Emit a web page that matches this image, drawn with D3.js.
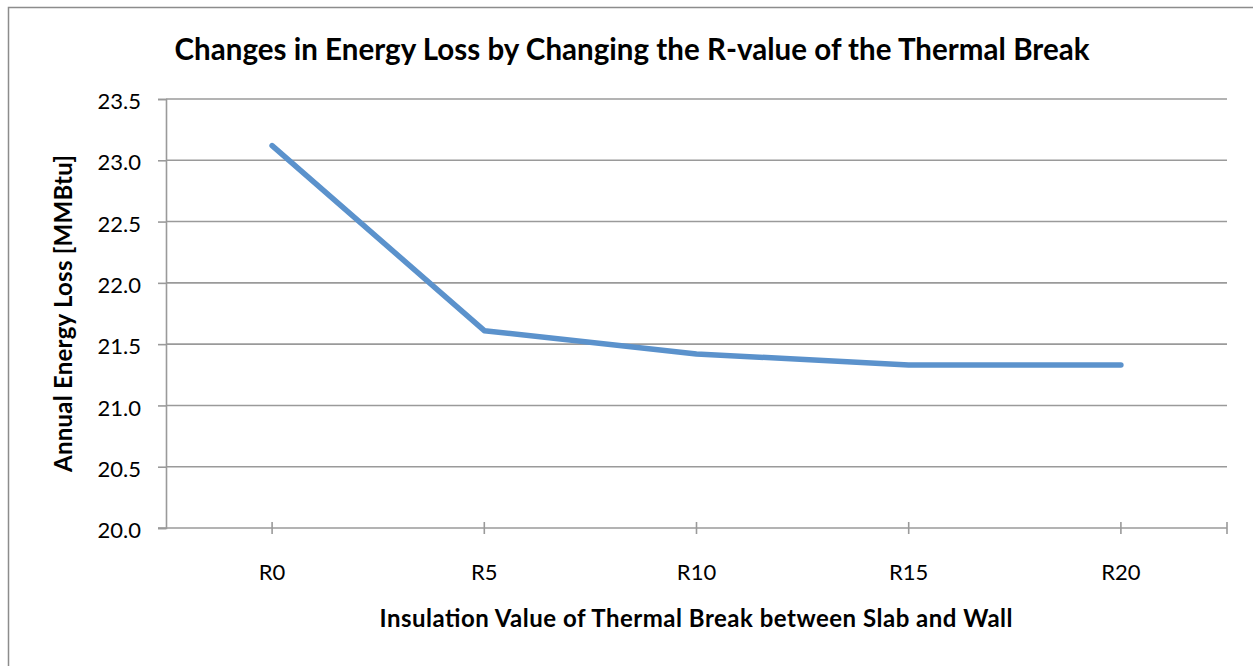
<!DOCTYPE html>
<html>
<head>
<meta charset="utf-8">
<script src="https://cdn.jsdelivr.net/npm/d3@7"></script>
<style>
  body { margin: 0; background: #fff; }
  text { font-family: Lato, "Open Sans", sans-serif; fill: #000; }
</style>
</head>
<body>
<svg id="chart" width="1253" height="666"></svg>
<script>
// data
const categories = ['R0', 'R5', 'R10', 'R15', 'R20'];
const energyLoss = [23.12, 21.61, 21.42, 21.33, 21.33];
const yTicks = [20.0, 20.5, 21.0, 21.5, 22.0, 22.5, 23.0, 23.5];

const titleText = 'Changes in Energy Loss by Changing the R-value of the Thermal Break';
const xTitleText = 'Insulation Value of Thermal Break between Slab and Wall';
const yTitleText = 'Annual Energy Loss [MMBtu]';

const svg = d3.select('#chart');
const plot = { left: 166, right: 1227, top: 99, bottom: 528 };
const gridColor = '#9a9a9a';

// outer chart frame (runs past the right and bottom edge of the shot)
svg.append('rect')
    .attr('x', 8.5).attr('y', 7.5)
    .attr('width', 1300).attr('height', 700)
    .attr('fill', 'none')
    .attr('stroke', '#8c8c8c')
    .attr('stroke-width', 1.5);

const x = d3.scaleBand()
    .domain(categories)
    .range([plot.left, plot.right])
    .padding(0);

const y = d3.scaleLinear()
    .domain([20, 23.5])
    .range([plot.bottom, plot.top]);

const cx = d => x(d) + x.bandwidth() / 2;

// horizontal gridlines
svg.append('g')
    .selectAll('line')
    .data(yTicks.slice(1))
    .join('line')
    .attr('x1', plot.left).attr('x2', plot.right)
    .attr('y1', d => y(d)).attr('y2', d => y(d))
    .attr('stroke', gridColor)
    .attr('stroke-width', 1.6);

// y axis
const yAxis = svg.append('g')
    .attr('transform', `translate(${plot.left},0)`)
    .call(d3.axisLeft(y).tickValues(yTicks).tickFormat(d3.format('.1f')).tickSize(8).tickPadding(17));
yAxis.select('.domain').attr('stroke', gridColor).attr('stroke-width', 1.6);
yAxis.selectAll('.tick line').attr('stroke', gridColor).attr('stroke-width', 1.6);
yAxis.selectAll('.tick text')
    .attr('font-family', 'Lato, sans-serif')
    .attr('font-size', 22)
    .attr('dy', '0.44em')
    .attr('fill', '#000');

// x axis: baseline plus cross tick marks at each category and the right end
const xAxis = svg.append('g');
xAxis.append('line')
    .attr('x1', plot.left - 8).attr('x2', plot.right)
    .attr('y1', plot.bottom).attr('y2', plot.bottom)
    .attr('stroke', gridColor).attr('stroke-width', 1.6);
const tickXs = categories.map(cx).concat([plot.right]);
xAxis.selectAll('line.xtick')
    .data(tickXs)
    .join('line')
    .attr('class', 'xtick')
    .attr('x1', d => d).attr('x2', d => d)
    .attr('y1', plot.bottom - 6).attr('y2', plot.bottom + 6)
    .attr('stroke', gridColor).attr('stroke-width', 1.6);
xAxis.selectAll('text')
    .data(categories)
    .join('text')
    .attr('x', d => cx(d))
    .attr('y', 580)
    .attr('text-anchor', 'middle')
    .attr('font-size', 22)
    .text(d => d);

// series line
const line = d3.line()
    .x((d, i) => cx(categories[i]))
    .y(d => y(d));

svg.append('path')
    .datum(energyLoss)
    .attr('d', line)
    .attr('fill', 'none')
    .attr('stroke', '#5b92cc')
    .attr('stroke-width', 5.5)
    .attr('stroke-linejoin', 'round')
    .attr('stroke-linecap', 'round');

// titles
svg.append('text')
    .attr('x', 632).attr('y', 60)
    .attr('text-anchor', 'middle')
    .attr('font-size', 29.5)
    .attr('font-weight', 'bold')
    .attr('textLength', 915)
    .attr('lengthAdjust', 'spacing')
    .text(titleText);

svg.append('text')
    .attr('x', 696).attr('y', 627)
    .attr('text-anchor', 'middle')
    .attr('font-size', 24)
    .attr('font-weight', 'bold')
    .attr('textLength', 633)
    .attr('lengthAdjust', 'spacing')
    .text(xTitleText);

svg.append('text')
    .attr('transform', 'translate(72,313.5) rotate(-90)')
    .attr('text-anchor', 'middle')
    .attr('font-size', 24)
    .attr('font-weight', 'bold')
    .attr('textLength', 317)
    .attr('lengthAdjust', 'spacing')
    .text(yTitleText);
</script>
</body>
</html>
